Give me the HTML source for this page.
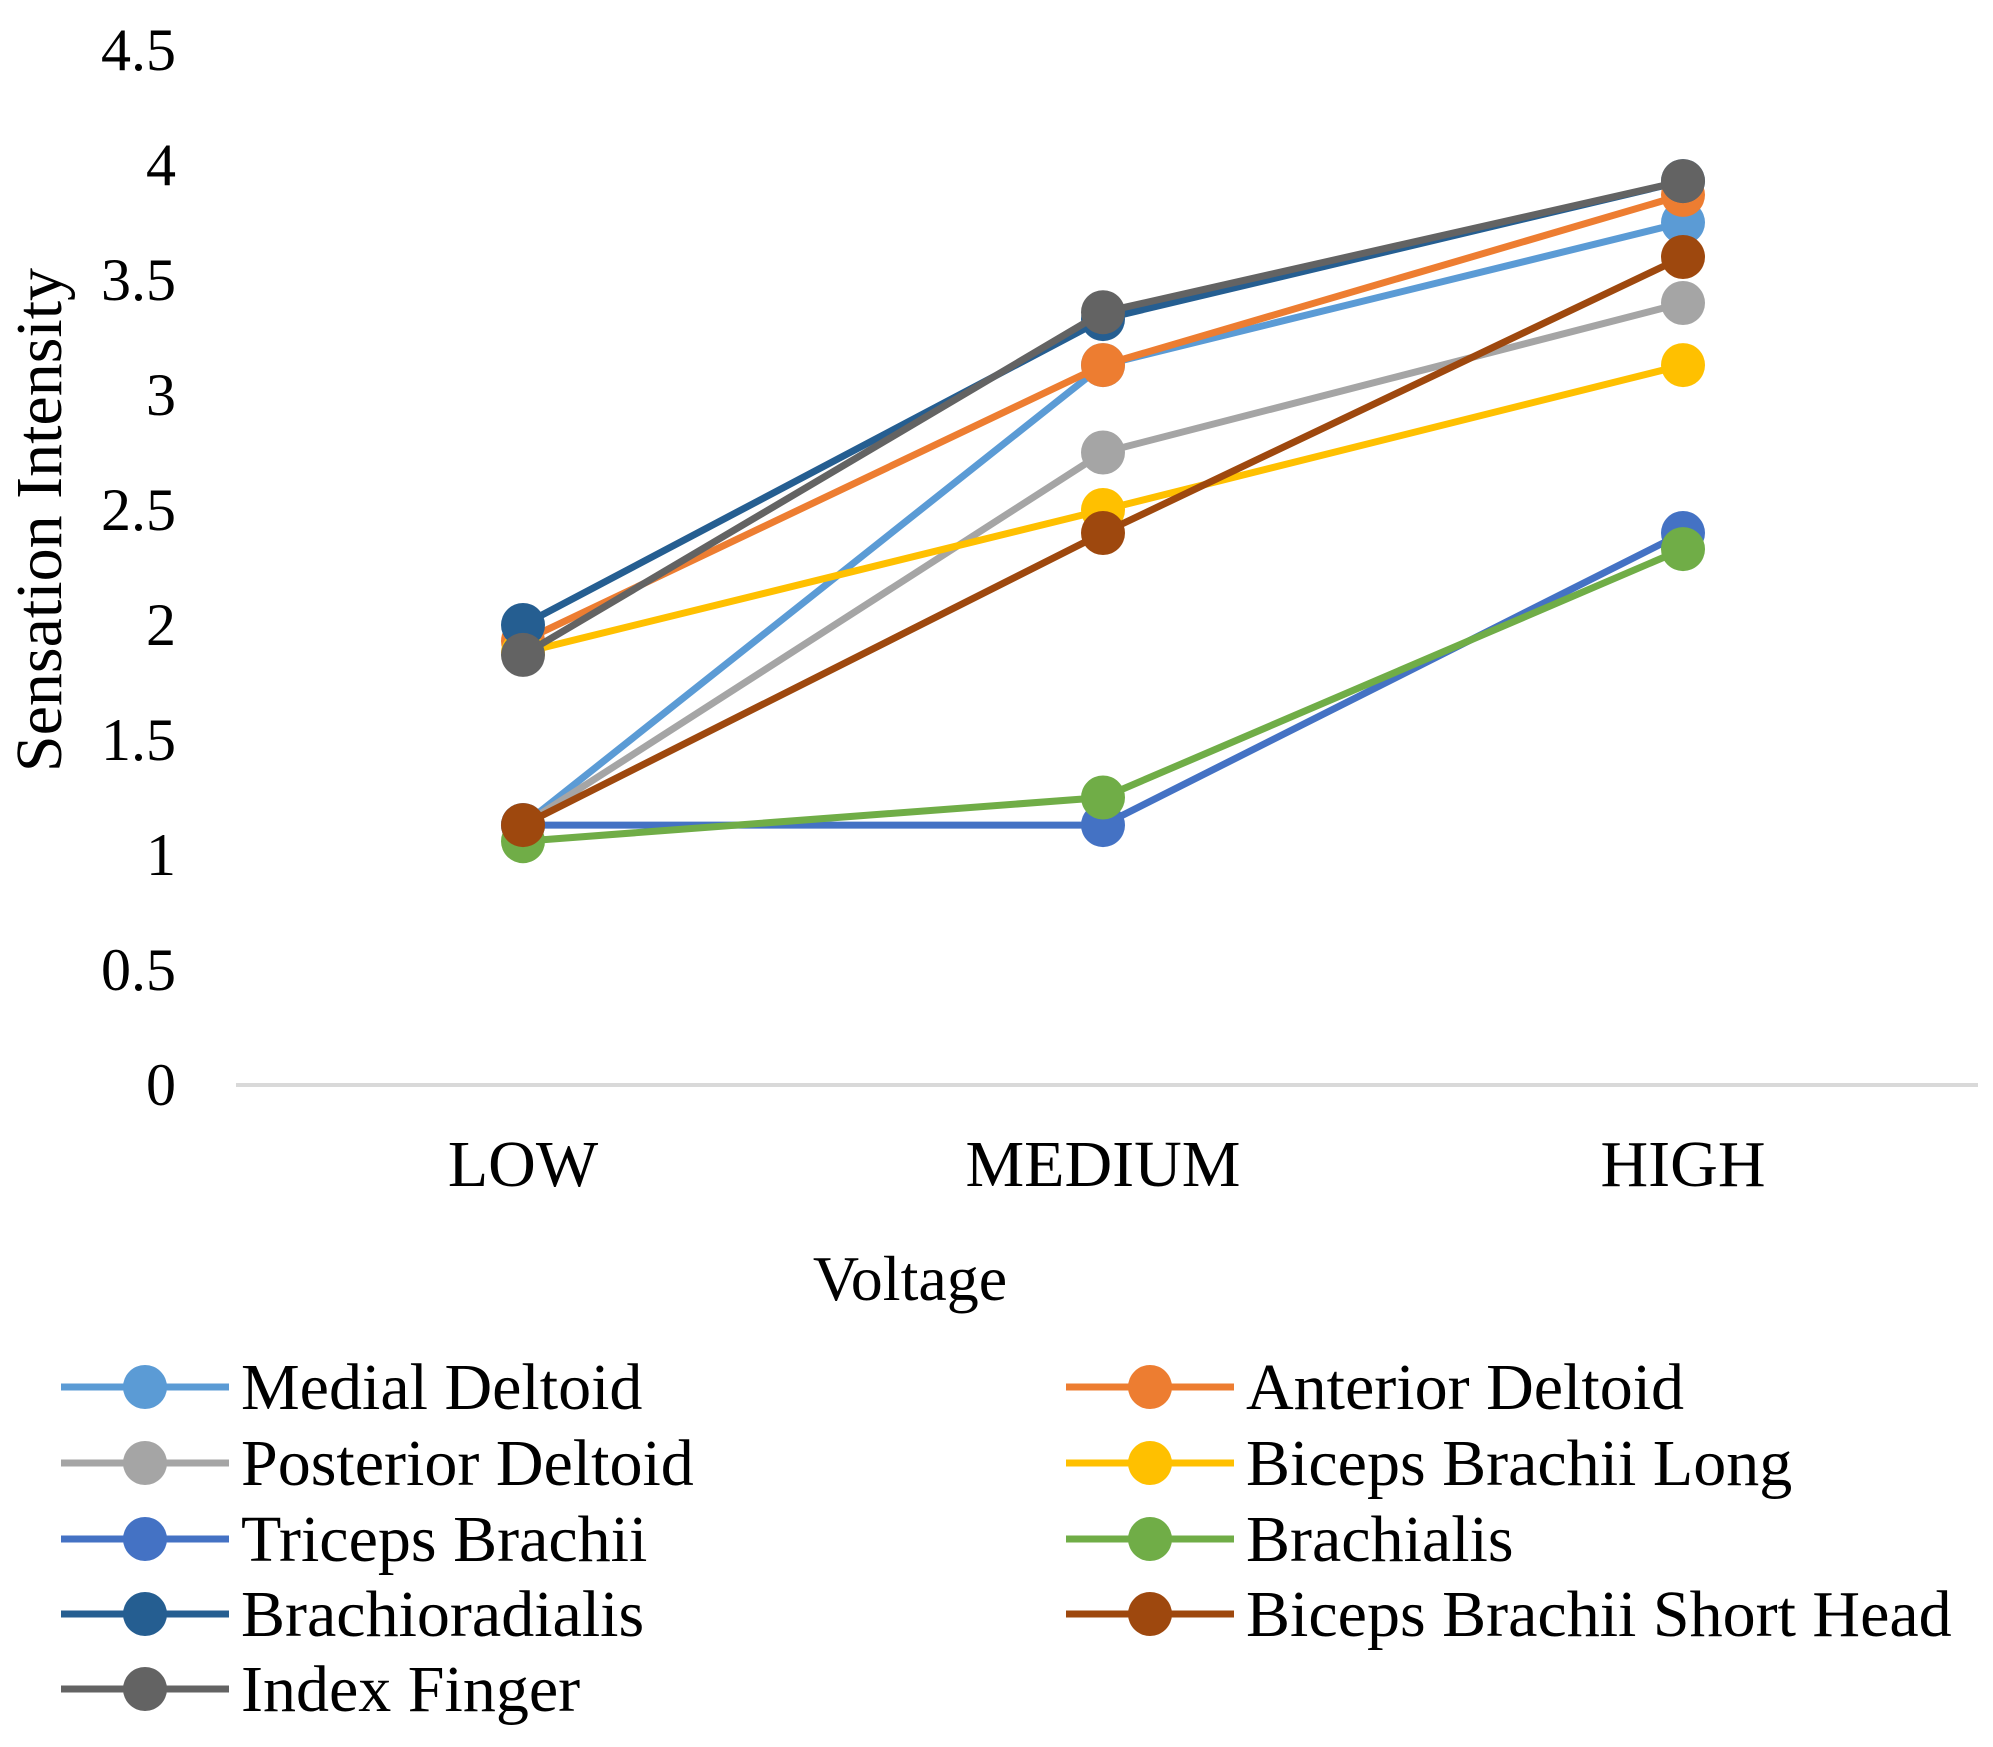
<!DOCTYPE html>
<html><head><meta charset="utf-8"><style>
body{margin:0;background:#fff}
svg text{font-family:"Liberation Serif",serif;fill:#000}
</style></head><body>
<svg id="chart" width="1993" height="1742" xmlns="http://www.w3.org/2000/svg"></svg>
<script>
const categories=["LOW","MEDIUM","HIGH"];
const seriesNames=["Medial Deltoid","Anterior Deltoid","Posterior Deltoid","Biceps Brachii Long","Triceps Brachii","Brachialis","Brachioradialis","Biceps Brachii Short Head","Index Finger"];
const medialDeltoid=[1.13,3.13,3.75];
const anteriorDeltoid=[1.93,3.13,3.87];
const posteriorDeltoid=[1.13,2.75,3.4];
const bicepsLong=[1.88,2.5,3.13];
const tricepsBrachii=[1.13,1.13,2.4];
const brachialis=[1.06,1.25,2.33];
const brachioradialis=[2.0,3.33,3.93];
const bicepsShort=[1.13,2.4,3.6];
const indexFinger=[1.87,3.36,3.93];
const yTicks=[0,0.5,1,1.5,2,2.5,3,3.5,4,4.5];
const seriesValues=[medialDeltoid,anteriorDeltoid,posteriorDeltoid,bicepsLong,tricepsBrachii,brachialis,brachioradialis,bicepsShort,indexFinger];
const colors=["#5b9bd5","#ed7d31","#a5a5a5","#ffc000","#4472c4","#70ad47","#255e91","#9e480e","#636363"];
const NS="http://www.w3.org/2000/svg";
const svg=document.getElementById('chart');
function y(v){return 1085-v*230;}
function x(i){return 523+i*580;}
function mk(t,a,p){const e=document.createElementNS(NS,t);for(const k in a)e.setAttribute(k,a[k]);(p||svg).appendChild(e);return e;}
const axis=mk('line',{x1:236,x2:1978,y1:1085,y2:1085,stroke:'#d9d9d9','stroke-width':4});


yTicks.forEach(t=>{const e=mk('text',{x:176,y:y(t)+20,'font-size':60,'text-anchor':'end'});e.textContent=String(t);

});
categories.forEach((c,i)=>{const e=mk('text',{x:x(i),y:1186,'font-size':66,'text-anchor':'middle'});e.textContent=c;

});
const xt=mk('text',{x:910,y:1300,'font-size':64,'text-anchor':'middle'});xt.textContent='Voltage';


const yt=mk('text',{x:0,y:0,'font-size':66,'text-anchor':'middle',transform:'translate(61,520) rotate(-90)'});yt.textContent='Sensation Intensity';


seriesValues.forEach((vals,s)=>{
 const g=mk('g',{});
 
 
 mk('polyline',{points:vals.map((v,i)=>x(i)+','+y(v)).join(' '),fill:'none',stroke:colors[s],'stroke-width':7,'stroke-linejoin':'round'},g);
 vals.forEach((v,i)=>{const c=mk('circle',{cx:x(i),cy:y(v),r:22,fill:colors[s]},g);
 
 });
});
const rows=[1387,1463,1539,1614,1689];
seriesNames.forEach((n,s)=>{
 const col=s%2,row=Math.floor(s/2);
 const cy=rows[row];const lx=col?1066:61;
 const g=mk('g',{});
 
 
 mk('line',{x1:lx,x2:lx+168,y1:cy,y2:cy,stroke:colors[s],'stroke-width':7},g);
 mk('circle',{cx:lx+84,cy:cy,r:22,fill:colors[s]},g);
 const t=mk('text',{x:lx+180,y:cy+22,'font-size':66},g);t.textContent=n;
});
</script>
</body></html>
